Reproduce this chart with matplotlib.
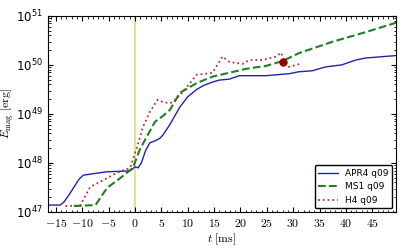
import numpy as np
import matplotlib
matplotlib.use("Agg")
import matplotlib.pyplot as plt

plt.rcParams['mathtext.fontset'] = 'cm'
plt.rcParams['font.family'] = 'DejaVu Sans'

# APR4 q09
t_apr4 = [-16.5, -14.2, -13.5, -12.5, -11.5, -10.6, -9.8, -7.9, -5.3, -2.5, -0.9, 0.0, 0.6,
          1.2, 2.0, 2.8, 3.8, 4.7, 5.3, 6.6, 8.5, 10.0, 11.7, 13.0, 14.7, 16.0, 17.9, 19.8,
          22.0, 24.9, 27.0, 29.2, 31.1, 33.6, 36.2, 39.2, 41.9, 43.7, 46.0, 49.5]
e_apr4 = [47.14, 47.14, 47.2, 47.35, 47.52, 47.67, 47.75, 47.78, 47.82, 47.83, 47.84, 47.92,
          47.9, 48.0, 48.25, 48.41, 48.45, 48.5, 48.57, 48.78, 49.14, 49.35, 49.5, 49.58,
          49.65, 49.69, 49.71, 49.78, 49.78, 49.78, 49.8, 49.82, 49.86, 49.88, 49.96, 50.0,
          50.1, 50.14, 50.16, 50.19]

# MS1 q09
t_ms1 = [-11.6, -7.5, -5.3, -2.8, -0.4, 0.9, 2.2, 3.8, 5.3, 6.6, 8.5, 11.7, 14.7, 17.9,
         21.1, 24.9, 28.0, 31.1, 37.4, 43.8, 49.5]
e_ms1 = [47.12, 47.14, 47.49, 47.69, 47.9, 48.27, 48.53, 48.84, 48.96, 49.08, 49.43, 49.63,
         49.76, 49.84, 49.92, 49.98, 50.08, 50.24, 50.47, 50.67, 50.86]

# H4 q09
t_h4 = [-13.2, -10.4, -8.5, -6.0, -3.4, -0.9, 0.4, 1.5, 2.8, 4.3, 5.3, 6.6, 7.2, 9.1, 11.7,
        13.6, 14.7, 16.6, 17.9, 20.4, 21.7, 24.2, 26.8, 27.7, 28.3, 29.2, 31.3]
e_h4 = [47.12, 47.13, 47.51, 47.65, 47.8, 47.9, 48.33, 48.73, 49.04, 49.29, 49.24, 49.22,
        49.24, 49.45, 49.8, 49.82, 49.84, 50.17, 50.06, 50.02, 50.1, 50.1, 50.17, 50.25,
        50.1, 49.96, 50.02]

dot_t = [28.1]
dot_e = [50.06]

fig, ax = plt.subplots(figsize=(4.07, 2.52), dpi=100)
fig.subplots_adjust(left=0.118, right=0.973, bottom=0.159, top=0.937)

ax.axvline(0, color='#dcdc80', lw=1.2, zorder=1)
ax.plot(t_apr4, 10 ** np.array(e_apr4), color='#2222aa', lw=1.0, label='APR4 q09')
ax.plot(t_ms1, 10 ** np.array(e_ms1), color='#1e801e', lw=1.5, ls='--', label='MS1 q09')
ax.plot(t_h4, 10 ** np.array(e_h4), color='#b03030', lw=1.3, ls=':', label='H4 q09')
ax.plot(dot_t, 10 ** np.array(dot_e), 'o', color='#990000', ms=5, zorder=5)

ax.set_yscale('log')
ax.set_xlim(-16.5, 49.5)
ax.set_ylim(1e47, 1e51)
ax.set_xticks(np.arange(-15, 50, 5))
ax.set_xticklabels([r'$%d$' % v for v in np.arange(-15, 50, 5)])
ax.xaxis.set_minor_locator(matplotlib.ticker.MultipleLocator(1))
ax.tick_params(which='both', direction='in', top=True, right=True, labelsize=8.5)
ax.tick_params(which='major', length=3.5)
ax.tick_params(which='minor', length=1.8)
ax.set_xlabel(r'$t\ [\mathrm{ms}]$', fontsize=8.5, labelpad=1)
ax.set_ylabel(r'$E_{\rm mag}\ [\mathrm{erg}]$', fontsize=8.5, labelpad=0)

leg = ax.legend(loc='lower right', fontsize=6.5, handlelength=2.2, borderaxespad=0.4,
                labelspacing=0.5)
leg.get_frame().set_edgecolor('black')
leg.get_frame().set_alpha(1)

fig.savefig('out.png', dpi=100)
